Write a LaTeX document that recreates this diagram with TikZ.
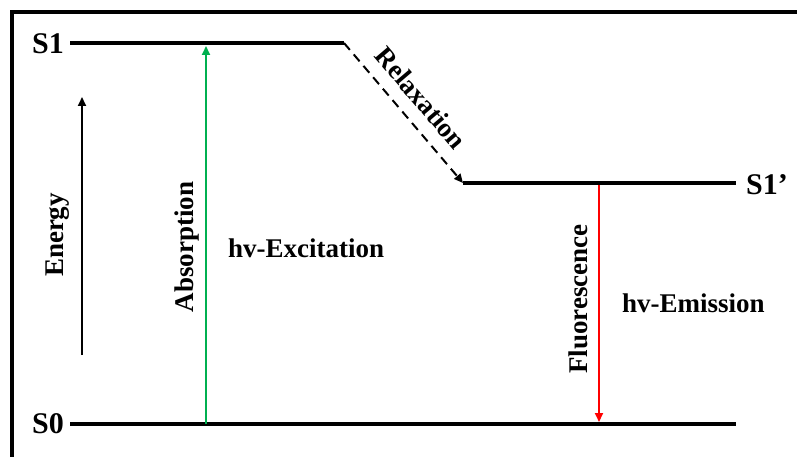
\documentclass[tikz,border=0pt]{standalone}
\usepackage{fontspec}
\setmainfont{Liberation Serif}
\usetikzlibrary{arrows.meta}
\definecolor{absgreen}{RGB}{0,176,80}
\definecolor{emitred}{RGB}{255,0,0}
\begin{document}
\begin{tikzpicture}[x=1pt,y=-1pt,
  frame/.style={line width=3.5pt},
  level/.style={line width=4pt},
  lbl/.style={font=\fontsize{27}{30}\selectfont\bfseries, inner sep=0pt},
  statelbl/.style={font=\fontsize{30}{33}\selectfont\bfseries, inner sep=0pt},
  tip/.style={-{Triangle[length=9pt,width=8pt]}},
  transition/.style={line width=2pt, tip},
  relax/.style={line width=2pt, dash pattern=on 9pt off 6pt, tip},
  ]
\useasboundingbox (0,0) rectangle (797,457);
\fill[white] (0,0) rectangle (797,457);

% outer frame (left and top edges)
\coordinate (fBL) at (12,457);
\coordinate (fTL) at (12,12);
\coordinate (fTR) at (797,12);
\draw[frame] (fBL) -- (fTL) -- (fTR);

% energy levels
\coordinate (s1a) at (70,43);
\coordinate (s1b) at (344,43);
\coordinate (s1pa) at (463,183);
\coordinate (s1pb) at (736,183);
\coordinate (s0a) at (70,424);
\coordinate (s0b) at (736,424);
\draw[level] (s1a) -- (s1b);
\draw[level] (s1pa) -- (s1pb);
\draw[level] (s0a) -- (s0b);

\node[statelbl] (S1) at (48,44) {S1};
\node[statelbl] (S0) at (48,424) {S0};
\node[statelbl] (S1p) at (767,185) {S1’};

% vibrational relaxation
\draw[relax] (s1b) -- (s1pa);
\node[lbl, rotate=-49.6, anchor=base] (relaxlbl) at (414,104) {Relaxation};

% energy axis
\coordinate (eBot) at (82,355);
\coordinate (eTop) at (82,97);
\draw[transition] (eBot) -- (eTop);
\node[lbl, rotate=90, anchor=base] (energy) at (63,235) {Energy};

% absorption
\coordinate (absB) at (206,424);
\coordinate (absT) at (206,46);
\draw[transition, absgreen] (absB) -- (absT);
\node[lbl, rotate=90, anchor=base] (absorp) at (193,247) {Absorption};
\node[lbl, anchor=base west] (exc) at (228,257) {hv-Excitation};

% fluorescence
\coordinate (fluT) at (599,185);
\coordinate (fluB) at (599,422);
\draw[transition, emitred] (fluT) -- (fluB);
\node[lbl, rotate=90, anchor=base] (fluor) at (587,299) {Fluorescence};
\node[lbl, anchor=base west] (emi) at (622,312) {hv-Emission};
\end{tikzpicture}
\end{document}
